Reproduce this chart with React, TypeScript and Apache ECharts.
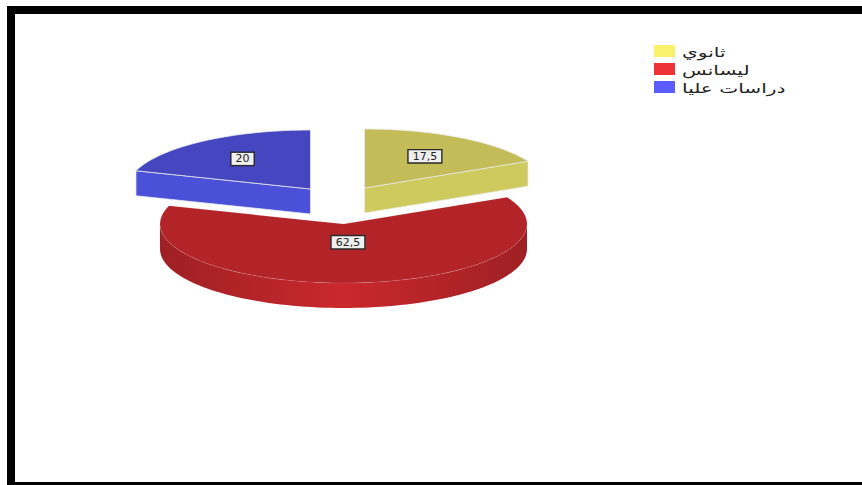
import React, { useEffect, useRef } from "react";
import * as echarts from "echarts";

// Shares in percent, clockwise from twelve o'clock.
const categories = ["ثانوي", "ليسانس", "دراسات عليا"];
const shares = [17.5, 62.5, 20];
const swatchColors = ["#fbf26c", "#ee3338", "#5a5cff"];
const topColors = ["#c4bc58", "#b22428", "#4546c0"];
const sideColors = ["#cfca5e", "#b82629", "#4a50d8"];
const explodeX = [21, 0, -33];
const explodeY = [-36, 0, -35];
const labelRadius = [0.63, 0.31, 0.63];
const drawOrder = [1, 2, 2];

const CX = 343.5;
const CY = 224;
const RX = 183.5;
const RY = 59;
const DEPTH = 25;
const STEP = Math.PI / 90;

function startAngle(index: number): number {
  let sum = 0;
  for (let i = 0; i < index; i++) sum += shares[i];
  return (sum / 100) * Math.PI * 2;
}

function rimPoint(ox: number, oy: number, angle: number, drop = 0): number[] {
  return [ox + RX * Math.sin(angle), oy - RY * Math.cos(angle) + drop];
}

function arcPoints(ox: number, oy: number, from: number, to: number, drop = 0): number[][] {
  const pts: number[][] = [];
  for (let a = from; a < to; a += STEP) pts.push(rimPoint(ox, oy, a, drop));
  pts.push(rimPoint(ox, oy, to, drop));
  return pts;
}

function renderSlice(index: number, api: any) {
  const value = api.value(0);
  const from = startAngle(index);
  const to = from + (value / 100) * Math.PI * 2;
  const ox = CX + explodeX[index];
  const oy = CY + explodeY[index];
  const children: any[] = [];
  const edge = "rgba(235,235,235,0.75)";

  // Extruded outer wall, only where the rim faces the viewer.
  const wallFrom = Math.max(from, Math.PI / 2);
  const wallTo = Math.min(to, (Math.PI * 3) / 2);
  if (wallFrom < wallTo) {
    const upper = arcPoints(ox, oy, wallFrom, wallTo);
    const lower = arcPoints(ox, oy, wallFrom, wallTo, DEPTH).reverse();
    children.push({
      type: "polygon",
      shape: { points: upper.concat(lower) },
      style: {
        fill: new echarts.graphic.LinearGradient(0, 0, 1, 0, [
          { offset: 0, color: "#9e2024" },
          { offset: 0.5, color: "#ca282c" },
          { offset: 1, color: "#9e2024" },
        ]),
      },
    });
  }

  // Cut faces of the pulled-out wedges.
  if (explodeX[index] !== 0) {
    const cutAngle = explodeX[index] > 0 ? to : from;
    const rim = rimPoint(ox, oy, cutAngle);
    children.push({
      type: "polygon",
      shape: { points: [[ox, oy], rim, [rim[0], rim[1] + DEPTH], [ox, oy + DEPTH]] },
      style: { fill: sideColors[index], stroke: edge, lineWidth: 1 },
    });
  }

  // Top surface.
  children.push({
    type: "polygon",
    shape: { points: [[ox, oy] as number[]].concat(arcPoints(ox, oy, from, to)) },
    style: {
      fill: topColors[index],
      stroke: explodeX[index] !== 0 ? edge : "rgba(255,255,255,0.12)",
      lineWidth: 1,
    },
  });

  // Boxed value label.
  const mid = (from + to) / 2;
  children.push({
    type: "text",
    z2: 10,
    style: {
      text: String(value).replace(".", ","),
      x: ox + RX * labelRadius[index] * Math.sin(mid),
      y: oy - RY * labelRadius[index] * Math.cos(mid),
      align: "center",
      verticalAlign: "middle",
      fontFamily: "DejaVu Sans",
      fontSize: 11,
      fill: "#222",
      backgroundColor: "#efefef",
      borderColor: "#2a2a2a",
      borderWidth: 1.4,
      padding: [1, 4, 0, 4],
    },
  });

  return { type: "group", children };
}

// Key in the upper right: swatch plus horizontally stretched caption.
function legendElements() {
  const rowStep = 18;
  return categories.flatMap((name, i) => [
    {
      type: "rect",
      shape: { x: 654, y: 45 + i * rowStep, width: 21, height: 12 },
      style: { fill: swatchColors[i] },
    },
    {
      type: "text",
      x: 682,
      y: 52 + i * rowStep,
      scaleX: 1.55,
      style: {
        text: name,
        x: 0,
        y: 0,
        align: "left",
        verticalAlign: "middle",
        fontFamily: "DejaVu Sans",
        fontSize: 13,
        fill: "#222",
      },
    },
  ]);
}

export default function App() {
  const ref = useRef<HTMLDivElement>(null);

  useEffect(() => {
    document.body.style.margin = "0";
    const chart = echarts.init(ref.current!, undefined, { renderer: "svg" });
    chart.setOption({
      animation: false,
      backgroundColor: "#ffffff",
      graphic: [
        { type: "rect", shape: { x: 7, y: 6, width: 855, height: 8 }, style: { fill: "#000" } },
        { type: "rect", shape: { x: 7, y: 6, width: 8, height: 479 }, style: { fill: "#000" } },
        { type: "rect", shape: { x: 7, y: 482, width: 855, height: 3 }, style: { fill: "#000" } },
        ...legendElements(),
      ],
      series: categories.map((name, i) => ({
        type: "custom",
        name,
        coordinateSystem: "none",
        z: drawOrder[i],
        itemStyle: { color: swatchColors[i] },
        data: [[shares[i]]],
        renderItem: (_params: any, api: any) => renderSlice(i, api),
      })),
    });
    return () => chart.dispose();
  }, []);

  return <div ref={ref} style={{ width: 862, height: 485 }} />;
}
